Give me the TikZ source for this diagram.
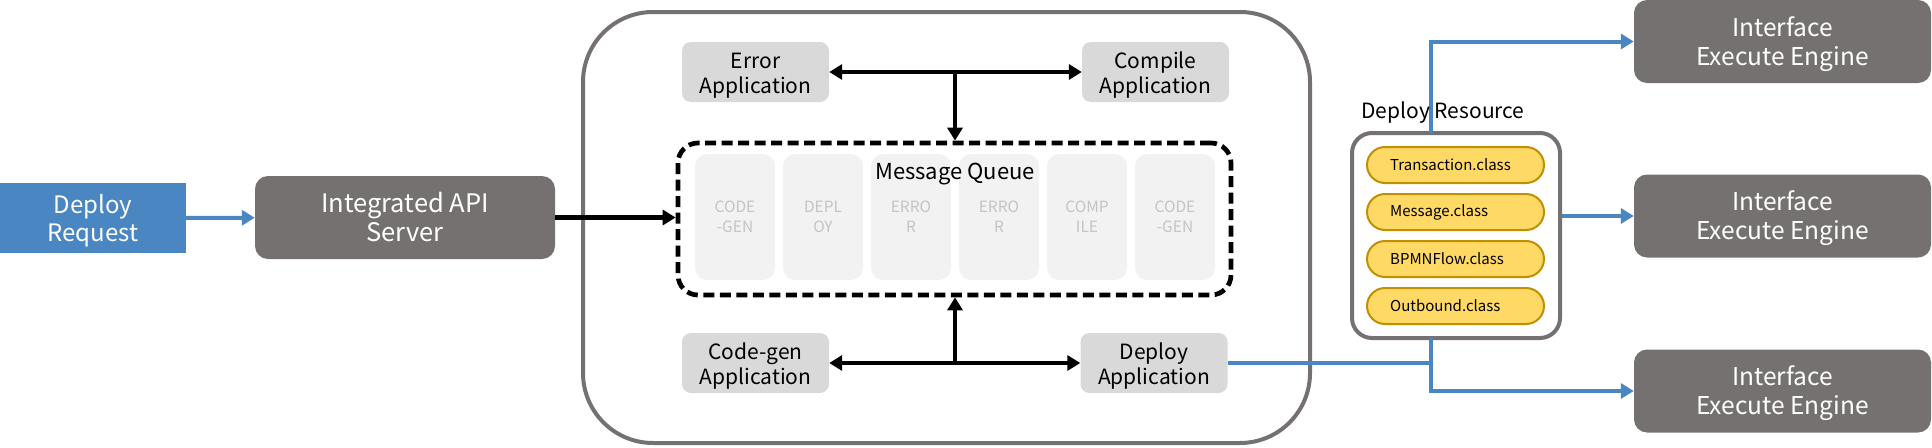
\documentclass[tikz,border=0pt]{standalone}
\usepackage{fontspec}
\setmainfont{Noto Sans CJK KR}
\usetikzlibrary{arrows.meta}
\definecolor{reqblue}{HTML}{4A86C2}
\definecolor{darkgr}{HTML}{767171}
\definecolor{appgr}{HTML}{D9D9D9}
\definecolor{cellgr}{HTML}{F2F2F2}
\definecolor{celltx}{HTML}{C4C4C4}
\definecolor{pillfill}{HTML}{FFD966}
\definecolor{pillline}{HTML}{BF9000}
\newcommand{\twoline}[2]{\raisebox{-3.5pt}[\height][\depth]{\begin{tabular}{@{}c@{}}#1\\#2\end{tabular}}}
\tikzset{
  darkbox/.style={fill=darkgr, rounded corners=13pt, text=white, inner sep=0pt, font=\fontsize{24.5}{29}\selectfont},
  appbox/.style={fill=appgr, rounded corners=9pt, text=black, inner sep=0pt, minimum width=147pt, minimum height=60pt, font=\fontsize{21}{25}\selectfont},
  cellbox/.style={fill=cellgr, rounded corners=12pt, text=celltx, align=center, inner sep=0pt, minimum width=80pt, minimum height=126pt, font=\fontsize{15.5}{20}\selectfont},
  pill/.style={fill=pillfill, draw=pillline, line width=2pt, rounded corners=18pt, minimum width=177pt, minimum height=36pt, inner sep=0pt},
  pilltext/.style={anchor=west, inner sep=0pt, text=black, font=\fontsize{15}{18}\selectfont},
  blk/.style={line width=4.5pt, black, -{Triangle[length=13pt,width=15pt]}},
  blkboth/.style={line width=4.5pt, black, {Triangle[length=13pt,width=15pt]}-{Triangle[length=13pt,width=15pt]}},
  blu/.style={line width=4pt, reqblue},
  bluarr/.style={line width=4pt, reqblue, -{Triangle[length=13pt,width=15pt]}},
  lbl/.style={inner sep=0pt, text=black}
}
\begin{document}
\begin{tikzpicture}[x=1pt,y=-1pt]
\useasboundingbox (0,0) rectangle (1932,447);
% outer container
\node[draw=darkgr, line width=4pt, rounded corners=70pt, minimum width=727pt, minimum height=431pt, inner sep=0pt] (outer) at (946.5,227.5) {};
% left side
\node[fill=reqblue, text=white, inner sep=0pt, minimum width=186pt, minimum height=70pt, font=\fontsize{24}{28}\selectfont] (req) at (93,218) {\twoline{Deploy}{Request}};
\node[darkbox, minimum width=300pt, minimum height=83pt, font=\fontsize{25.5}{29}\selectfont] (api) at (405,217.5) {\twoline{Integrated API}{Server}};
% applications
\node[appbox] (err) at (755.5,72) {\twoline{Error}{Application}};
\node[appbox] (comp) at (1155.5,72) {\twoline{Compile}{Application}};
\node[appbox] (cg) at (755.5,363) {\twoline{Code-gen}{Application}};
\node[appbox] (dep) at (1154,363) {\twoline{Deploy}{Application}};
% queue
\node[draw=black, line width=4.7pt, dash pattern=on 11pt off 5.5pt, rounded corners=20pt, minimum width=553pt, minimum height=152pt, inner sep=0pt] (queue) at (954.5,219) {};
\node[cellbox] (c1) at (735,217) {CODE\\-GEN};
\node[cellbox] (c2) at (823,217) {DEPL\\OY};
\node[cellbox] (c3) at (911,217) {ERRO\\R};
\node[cellbox] (c4) at (999,217) {ERRO\\R};
\node[cellbox] (c5) at (1087,217) {COMP\\ILE};
\node[cellbox] (c6) at (1175,217) {CODE\\-GEN};
\node[lbl, font=\fontsize{22}{26}\selectfont] (mqlabel) at (955,174) {Message Queue};
% engines
\node[darkbox, minimum width=297pt, minimum height=83pt] (eng1) at (1782.5,41.5) {\twoline{Interface}{Execute Engine}};
\node[darkbox, minimum width=297pt, minimum height=83pt] (eng2) at (1782.5,216) {\twoline{Interface}{Execute Engine}};
\node[darkbox, minimum width=297pt, minimum height=83pt] (eng3) at (1782.5,391) {\twoline{Interface}{Execute Engine}};
% deploy resource
\node[draw=darkgr, line width=4pt, rounded corners=20pt, minimum width=208pt, minimum height=205pt, inner sep=0pt] (res) at (1456,235.5) {};
\node[pill] (p1) at (1455.5,165) {};
\node[pill] (p2) at (1455.5,212) {};
\node[pill] (p3) at (1455.5,259) {};
\node[pill] (p4) at (1455.5,306) {};
\node[pilltext] (t1) at (1390,165) {Transaction.class};
\node[pilltext] (t2) at (1390,212) {Message.class};
\node[pilltext] (t3) at (1390,259) {BPMNFlow.class};
\node[pilltext] (t4) at (1390,306) {Outbound.class};
% coordinates
\coordinate (topj) at (955,72);
\coordinate (botj) at (955,363);
\coordinate (rtop) at (1431,133);
\coordinate (rbot) at (1431,338);
\coordinate (djoin) at (1431,363);
% connectors
\draw[bluarr] (req) -- (api);
\draw[blk] (api.east) -- (api.east -| queue.west);
\draw[blkboth] (err) -- (comp);
\draw[blk] (topj) -- (topj |- queue.north);
\draw[blkboth] (cg) -- (dep);
\draw[blk] (botj) -- (botj |- queue.south);
\draw[blu] (dep.east) -- (djoin);
\draw[bluarr] (rbot) |- (eng3.west);
\draw[bluarr] (rtop) |- (eng1.west);
\draw[bluarr] (res.east |- eng2.west) -- (eng2.west);
\node[lbl, font=\fontsize{21}{25}\selectfont] (reslabel) at (1443,113) {Deploy Resource};
\end{tikzpicture}
\end{document}
